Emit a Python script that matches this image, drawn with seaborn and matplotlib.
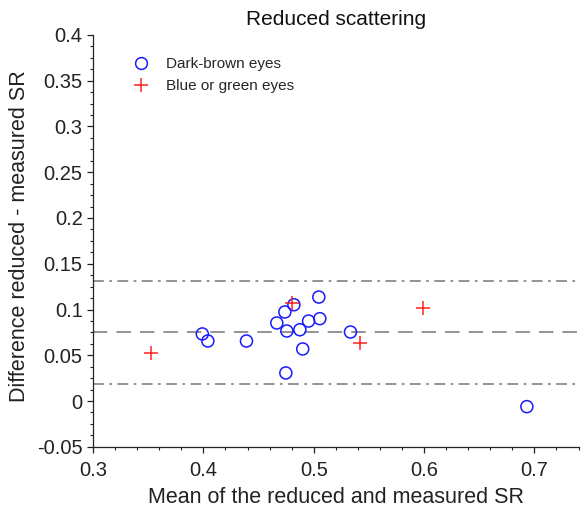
import matplotlib
matplotlib.use("Agg")
import matplotlib.pyplot as plt
from matplotlib.ticker import MultipleLocator, AutoMinorLocator
from matplotlib.lines import Line2D
import seaborn as sns
import pandas as pd

# Bland-Altman data: mean of the two SR estimates vs. their difference
brown_mean = [0.399, 0.404, 0.439, 0.4665, 0.4738, 0.4756, 0.482, 0.4874,
              0.4953, 0.5046, 0.5055, 0.490, 0.4747, 0.5333, 0.6932]
brown_diff = [0.0733, 0.0656, 0.0656, 0.0853, 0.0973, 0.0765, 0.1052, 0.0779,
              0.0874, 0.1136, 0.0900, 0.0569, 0.0307, 0.0754, -0.0061]
blue_mean = [0.3526, 0.480, 0.5415, 0.599]
blue_diff = [0.052, 0.107, 0.063, 0.1012]

# Bias and limits of agreement
bias = 0.075
loa_low = 0.019
loa_high = 0.131

labels = ["Dark-brown eyes", "Blue or green eyes"]

sns.set_style("ticks")
plt.rcParams["font.family"] = ["Liberation Sans", "DejaVu Sans"]

df_brown = pd.DataFrame({"m": brown_mean, "d": brown_diff})
df_blue = pd.DataFrame({"m": blue_mean, "d": blue_diff})

fig = plt.figure(figsize=(5.82, 5.13), dpi=100)
ax = fig.add_axes([0.160, 0.129, 0.834, 0.803])

grey = "#8a8a8a"
ax.axhline(loa_high, color=grey, lw=1.3, ls=(0, (6, 3, 1.5, 3)), zorder=1)
ax.axhline(bias, color=grey, lw=1.3, ls=(0, (8, 5)), zorder=1)
ax.axhline(loa_low, color=grey, lw=1.3, ls=(0, (6, 3, 1.5, 3)), zorder=1)

sns.scatterplot(data=df_brown, x="m", y="d", marker="o", s=75,
                facecolors="none", edgecolor="#1a1aff", linewidth=1.1,
                ax=ax, zorder=3)
sns.scatterplot(data=df_blue, x="m", y="d", marker="+", s=110,
                color="#ff2020", linewidth=1.1, ax=ax, zorder=3)

ax.set_xlim(0.3, 0.74)
ax.set_ylim(-0.05, 0.4)
ax.xaxis.set_major_locator(MultipleLocator(0.1))
ax.xaxis.set_minor_locator(AutoMinorLocator(5))
ax.yaxis.set_major_locator(MultipleLocator(0.05))
ax.yaxis.set_minor_locator(AutoMinorLocator(4))
ax.xaxis.set_major_formatter(plt.FuncFormatter(lambda v, p: f"{v:g}"))
ax.yaxis.set_major_formatter(plt.FuncFormatter(lambda v, p: f"{v:g}"))

ax.tick_params(axis="both", which="major", direction="out", length=4,
               width=0.9, labelsize=14.5, colors="#222222")
ax.tick_params(axis="x", which="major", pad=6)
ax.tick_params(axis="both", which="minor", direction="out", length=2.5,
               width=0.8, colors="#222222")
for s in ["left", "bottom"]:
    ax.spines[s].set_linewidth(0.9)
    ax.spines[s].set_color("#222222")
sns.despine(ax=ax)

ax.set_xlabel("Mean of the reduced and measured SR", fontsize=15.5,
              color="#222222", labelpad=5)
ax.set_ylabel("Difference reduced - measured SR", fontsize=15.5,
              color="#222222")
ax.yaxis.set_label_coords(-0.131, 0.512)
ax.set_title("Reduced scattering", fontsize=15, color="#111111", pad=7)

handles = [
    Line2D([], [], marker="o", ls="none", markersize=8.5, mfc="none",
           mec="#1a1aff", mew=1.1),
    Line2D([], [], marker="+", ls="none", markersize=10, color="#ff2020",
           mew=1.1),
]
ax.legend(handles, labels, loc="upper left", bbox_to_anchor=(0.055, 0.96),
          frameon=False, fontsize=11, handletextpad=0.6, labelspacing=0.5,
          borderaxespad=0)

fig.savefig("out.png", dpi=100)
